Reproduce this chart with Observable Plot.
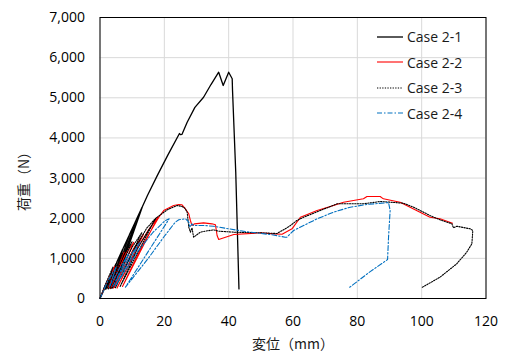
<!DOCTYPE html>
<html><head><meta charset="utf-8">
<script src="https://cdn.jsdelivr.net/npm/d3@7"></script>
<script src="https://cdn.jsdelivr.net/npm/@observablehq/plot@0.6"></script>
<style>
body{margin:0;background:#fff;}
#wrap{position:relative;width:516px;height:354px;overflow:hidden;}
#wrap svg.plot text{fill:#1a1a1a;}
.atitle{position:absolute;font-family:"Noto Sans CJK JP","Open Sans",sans-serif;font-size:14px;color:#1a1a1a;white-space:nowrap;line-height:16px;}
#xtitle{left:293px;top:335px;transform:translateX(-50%);}
#ytitle{left:23px;top:178px;transform:translate(-50%,-50%) rotate(-90deg);}
#legend{position:absolute;left:376px;top:24px;font-family:"Open Sans",sans-serif;font-size:14px;color:#1a1a1a;}
#legend .row{height:25.5px;display:flex;align-items:center;}
#legend svg{margin-right:3px;}
</style></head><body><div id="wrap"></div>
<script>
// Case 2-1 (black solid): [displacement mm, load N]
const case21 = [
  [0,0],[3,520],[1.8,230],[3.2,560],[5,870],[2.6,240],[5.2,900],[7,1220],[3.2,250],[7.2,1250],
  [9,1560],[3.6,260],[9.2,1600],[11,1910],[4.0,270],[11.2,1950],[13,2260],[4.4,280],[13.2,2290],
  [14.75,2566],[17.8,3060],[21,3560],[24.7,4110],[25.0,4080],[25.5,4090],[27.1,4392],[29.5,4760],
  [32.2,5014],[34.5,5330],[36.9,5637],[38.3,5306],[40.0,5637],[41.1,5473],[41.2,5181],[42.2,3150],[43.2,240]
];
// Case 2-2 (red solid)
const case22 = [
  [0,0],[1.5,300],[4.5,800],[2.5,260],[5,700],[7.5,1150],[3.3,260],[8,1120],[10.5,1400],[4.2,260],
  [10.5,1250],[12.6,1490],[13.5,1600],[5.3,260],[11,1150],[15,1700],[18,2030],[7,300],[13,1300],[18.3,2025],
  [19.8,2190],[22.9,2317],[24.5,2340],[25.5,2334],[26.3,2259],[27.6,2110],[28.1,1943],[28.6,1818],
  [29.4,1860],[32.2,1885],[34.8,1860],[35.9,1835],[36.4,1570],[36.9,1470],[41.6,1594],[49.8,1636],
  [54,1610],[56.6,1600],[59.7,1736],[62.3,2025],[67.5,2192],[72.6,2317],[75.7,2399],[81.9,2483],
  [83,2541],[87.1,2541],[88.1,2483],[93.3,2399],[99.5,2150],[102.6,2025],[105.7,1985],[109.6,1876]
];
// Case 2-3 (black dotted)
const case23 = [
  [0,0],[1.5,320],[4,780],[2.2,250],[4.5,700],[7,1130],[3,250],[7.5,1100],[10,1420],[3.8,260],
  [10,1280],[13,1640],[4.8,270],[10.5,1200],[14.5,1750],[17.3,2000],[6.2,290],[12,1300],[17.5,2010],
  [20.9,2209],[24,2317],[25.5,2292],[26.4,2250],[27.1,2150],[27.6,1777],[28.1,1652],[28.6,1760],
  [29.1,1527],[31.2,1652],[32.2,1670],[35.3,1711],[36.9,1677],[41.6,1652],[49.8,1636],[55,1620],
  [57.6,1736],[59.2,1818],[61.2,1943],[63.3,2025],[68.5,2192],[73.7,2359],[77.8,2359],[81.9,2359],
  [87.1,2416],[90.2,2399],[94.3,2374],[97.5,2275],[102.6,2067],[105.7,1960],[109.4,1860],[109.9,1761],
  [110.9,1801],[115.1,1736],[115.9,1694],[115.6,1362],[114,1153],[110.9,864],[105.7,531],[100.1,275]
];
// Case 2-4 (blue dash-dot)
const case24 = [
  [0,0],[2.5,450],[5,780],[3,300],[6,740],[9,1120],[4,300],[9.5,1080],[12.5,1400],[4.8,320],
  [12,1200],[16.5,1650],[20.3,1943],[21.5,1985],[7.9,282],[15,1000],[20,1550],[23.4,1901],
  [24.5,1960],[26.6,1985],[27.6,1901],[27.9,1777],[28.6,1860],[29.1,1818],[32,1820],[35.3,1800],
  [40,1736],[45.2,1669],[53.5,1587],[57.6,1527],[58.1,1527],[60.2,1694],[67.5,1985],[72.6,2150],
  [77.8,2275],[83,2342],[89.7,2390],[90.2,2192],[89.7,1527],[89.4,970],[84,670],[77.3,260]
];

const seriesNames = ["Case 2-1","Case 2-2","Case 2-3","Case 2-4"];
const xTicks = [0,20,40,60,80,100,120];
const yTicks = [0,1000,2000,3000,4000,5000,6000,7000];
const xLabel = "変位（mm）";
const yLabel = "荷重（N）";

const lineStyles = [
  {stroke:"#000000", strokeWidth:1.3, dash:null},
  {stroke:"#ff0000", strokeWidth:1.1, dash:null},
  {stroke:"#000000", strokeWidth:1.1, dash:"1.3,1.3"},
  {stroke:"#0070c0", strokeWidth:1.1, dash:"5,2,1.5,2"}
];
const seriesData = [case21, case22, case23, case24];

const chart = Plot.plot({
  width: 516, height: 354,
  marginLeft: 99.5, marginRight: 30.5, marginTop: 17, marginBottom: 56,
  style: {fontFamily: "'Open Sans', sans-serif", fontSize: "14px", background: "#fff"},
  x: {domain: [0,120]},
  y: {domain: [0,7000]},
  marks: [
    Plot.gridX(xTicks, {stroke: "#d9d9d9", strokeOpacity: 1, strokeWidth: 1}),
    Plot.gridY(yTicks, {stroke: "#d9d9d9", strokeOpacity: 1, strokeWidth: 1}),
    ...seriesData.map((data, i) => Plot.line(data, {
      x: d => d[0], y: d => d[1],
      stroke: lineStyles[i].stroke, strokeWidth: lineStyles[i].strokeWidth,
      strokeDasharray: lineStyles[i].dash, strokeLinejoin: "round"
    })),
    Plot.axisX({ticks: xTicks, tickSize: 0, tickPadding: 18, label: null}),
    Plot.axisY({ticks: yTicks, tickSize: 0, tickPadding: 15, tickFormat: d3.format(","), label: null}),
    Plot.frame({stroke: "#000", strokeWidth: 1})
  ]
});
const wrap = document.getElementById("wrap");
wrap.appendChild(chart);

// Axis titles
const xt = document.createElement("div");
xt.id = "xtitle"; xt.className = "atitle"; xt.textContent = xLabel;
const yt = document.createElement("div");
yt.id = "ytitle"; yt.className = "atitle"; yt.textContent = yLabel;
wrap.appendChild(xt); wrap.appendChild(yt);

// Legend (inside plot area, top right)
const legend = document.createElement("div");
legend.id = "legend";
seriesNames.forEach((name, i) => {
  const row = document.createElement("div");
  row.className = "row";
  const s = lineStyles[i];
  row.innerHTML = `<svg width="28" height="6"><line x1="1" x2="27" y1="3" y2="3" stroke="${s.stroke}" stroke-width="${s.strokeWidth}" ${s.dash ? `stroke-dasharray="${s.dash}"` : ""}/></svg><span>${name}</span>`;
  legend.appendChild(row);
});
wrap.appendChild(legend);
</script>
</body></html>
